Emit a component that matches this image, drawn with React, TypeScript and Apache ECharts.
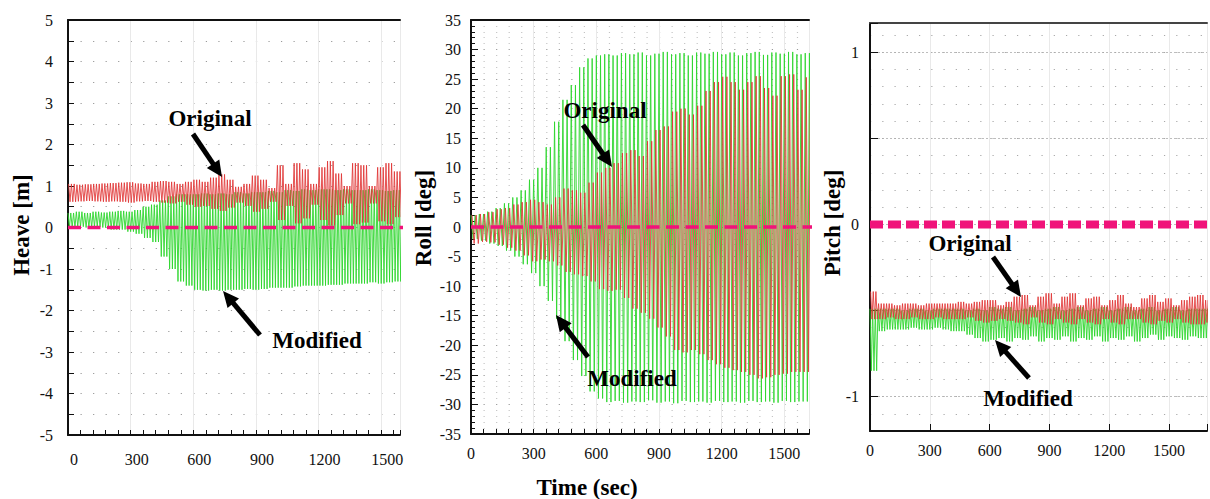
import React, { useEffect, useRef } from 'react';
import * as echarts from 'echarts';

// ---------- DATA (envelopes, one value every 40 s, t = 0 … 1680 s) ----------
const envelopeStepSec = 40;
const envelopeTimes = [
  0, 40, 80, 120, 160, 200, 240, 280, 320, 360,
  400, 440, 480, 520, 560, 600, 640, 680, 720, 760,
  800, 840, 880, 920, 960, 1000, 1040, 1080, 1120, 1160,
  1200, 1240, 1280, 1320, 1360, 1400, 1440, 1480, 1520, 1560,
  1600, 1640, 1680,
];

// Heave [m]
const heaveOriginalUpper = [
  1.05, 1.03, 1.04, 1.05, 1.06, 1.07, 1.08, 1.09, 1.06, 1.05,
  1.10, 1.12, 1.10, 1.05, 1.10, 1.15, 1.10, 1.20, 1.28, 1.15,
  0.98, 1.05, 1.25, 1.15, 0.95, 1.50, 1.05, 1.55, 1.40, 1.05,
  1.45, 1.60, 1.30, 1.00, 1.55, 1.50, 1.00, 1.45, 1.55, 1.35,
  1.20, 1.20, 1.20,
];
const heaveOriginalLower = [
  0.62, 0.63, 0.64, 0.63, 0.62, 0.63, 0.62, 0.60, 0.63, 0.64,
  0.62, 0.60, 0.58, 0.62, 0.55, 0.50, 0.52, 0.45, 0.40, 0.48,
  0.60, 0.52, 0.38, 0.45, 0.62, 0.18, 0.52, 0.10, 0.22, 0.55,
  0.18, 0.05, 0.30, 0.58, 0.08, 0.12, 0.58, 0.15, 0.08, 0.25,
  0.35, 0.35, 0.35,
];
const heaveModifiedUpper = [
  0.35, 0.38, 0.35, 0.38, 0.36, 0.38, 0.40, 0.38, 0.42, 0.50,
  0.55, 0.65, 0.75, 0.80, 0.80, 0.80, 0.82, 0.80, 0.82, 0.80,
  0.85, 0.82, 0.85, 0.85, 0.88, 0.85, 0.90, 0.88, 0.92, 0.90,
  0.92, 0.92, 0.90, 0.92, 0.90, 0.90, 0.92, 0.90, 0.88, 0.90,
  0.90, 0.90, 0.90,
];
const heaveModifiedLower = [
  0.00, 0.02, 0.00, 0.02, 0.00, -0.05, -0.05, -0.10, -0.15, -0.25,
  -0.35, -0.70, -1.00, -1.30, -1.40, -1.50, -1.52, -1.50, -1.52, -1.50,
  -1.50, -1.48, -1.50, -1.48, -1.45, -1.45, -1.45, -1.42, -1.40, -1.40,
  -1.40, -1.38, -1.38, -1.35, -1.35, -1.35, -1.32, -1.35, -1.32, -1.30,
  -1.30, -1.30, -1.30,
];

// Roll [deg]
const rollOriginalUpper = [
  2.0, 2.2, 2.5, 3.0, 3.2, 3.8, 4.2, 4.6, 4.2, 3.8,
  5.0, 6.5, 6.2, 5.8, 7.5, 9.2, 10.0, 10.8, 12.5, 13.0,
  12.0, 14.5, 16.4, 17.0, 19.5, 20.0, 19.0, 20.5, 23.0, 24.5,
  25.4, 24.5, 23.2, 24.5, 25.5, 23.5, 22.2, 25.5, 25.8, 23.2,
  25.3, 25.3, 25.3,
];
const rollOriginalLower = [
  -2.8, -2.5, -2.6, -3.0, -3.5, -4.0, -4.8, -5.8, -5.5, -5.8,
  -6.5, -7.6, -8.0, -8.3, -9.2, -10.5, -10.8, -10.6, -12.0, -13.8,
  -14.5, -15.5, -17.0, -18.5, -20.8, -21.2, -20.8, -21.5, -22.5, -23.2,
  -23.8, -24.2, -24.5, -25.0, -25.6, -25.4, -25.0, -24.8, -24.5, -24.5,
  -24.5, -24.5, -24.5,
];
const rollModifiedUpper = [
  2.0, 2.2, 2.6, 3.2, 4.0, 5.0, 6.2, 8.0, 10.0, 13.5,
  17.8, 21.5, 24.0, 27.0, 28.5, 29.0, 29.2, 29.0, 29.4, 29.2,
  29.5, 29.0, 29.3, 29.6, 29.2, 29.4, 29.0, 29.5, 29.3, 29.6,
  29.2, 29.5, 29.0, 29.4, 29.6, 29.1, 29.5, 29.3, 29.6, 29.2,
  29.4, 29.4, 29.4,
];
const rollModifiedLower = [
  -2.0, -2.3, -2.8, -3.2, -4.0, -5.0, -6.3, -7.8, -10.0, -12.5,
  -15.5, -19.3, -22.5, -25.2, -27.8, -29.0, -29.6, -29.4, -29.7, -29.5,
  -29.6, -29.3, -29.7, -29.5, -29.8, -29.4, -29.6, -29.5, -29.7, -29.4,
  -29.6, -29.5, -29.7, -29.4, -29.6, -29.5, -29.7, -29.4, -29.6, -29.5,
  -29.5, -29.5, -29.5,
];

// Pitch [deg]
const pitchOriginalUpper = [
  -0.39, -0.46, -0.46, -0.47, -0.46, -0.46, -0.47, -0.46, -0.46, -0.46,
  -0.46, -0.45, -0.46, -0.45, -0.44, -0.44, -0.47, -0.45, -0.42, -0.41,
  -0.47, -0.42, -0.40, -0.46, -0.42, -0.40, -0.47, -0.43, -0.42, -0.47,
  -0.44, -0.41, -0.46, -0.48, -0.43, -0.41, -0.45, -0.43, -0.47, -0.44,
  -0.42, -0.41, -0.44,
];
const pitchOriginalLower = [
  -0.55, -0.55, -0.54, -0.55, -0.55, -0.54, -0.55, -0.55, -0.54, -0.55,
  -0.55, -0.55, -0.54, -0.56, -0.57, -0.56, -0.55, -0.56, -0.57, -0.58,
  -0.54, -0.57, -0.58, -0.55, -0.57, -0.58, -0.55, -0.57, -0.58, -0.55,
  -0.57, -0.58, -0.55, -0.55, -0.57, -0.58, -0.56, -0.57, -0.55, -0.57,
  -0.58, -0.58, -0.57,
];
const pitchModifiedUpper = [
  -0.49, -0.49, -0.49, -0.49, -0.50, -0.49, -0.49, -0.50, -0.49, -0.49,
  -0.49, -0.49, -0.50, -0.49, -0.50, -0.48, -0.49, -0.48, -0.50, -0.49,
  -0.48, -0.50, -0.49, -0.48, -0.50, -0.49, -0.48, -0.50, -0.49, -0.48,
  -0.50, -0.49, -0.48, -0.50, -0.49, -0.48, -0.50, -0.49, -0.48, -0.50,
  -0.49, -0.49, -0.49,
];
const pitchModifiedLower = [
  -0.85, -0.62, -0.61, -0.61, -0.61, -0.60, -0.61, -0.61, -0.60, -0.61,
  -0.62, -0.62, -0.64, -0.66, -0.68, -0.67, -0.66, -0.68, -0.66, -0.67,
  -0.65, -0.68, -0.66, -0.67, -0.65, -0.68, -0.66, -0.67, -0.65, -0.68,
  -0.66, -0.67, -0.65, -0.68, -0.66, -0.64, -0.67, -0.65, -0.66, -0.67,
  -0.65, -0.66, -0.66,
];

// zero reference (dashed magenta)
const zeroReference = [[0, 0], [1700, 0]];

// tick labels
const timeTickLabels = ['0', '300', '600', '900', '1200', '1500'];
const heaveTickLabels = ['-5', '-4', '-3', '-2', '-1', '0', '1', '2', '3', '4', '5'];
const rollTickLabels = ['-35', '-30', '-25', '-20', '-15', '-10', '-5', '0', '5', '10', '15', '20', '25', '30', '35'];
const pitchTickLabels = ['-1', '0', '1'];

// ---------- helpers ----------
function oscillation(upper: number[], lower: number[], cyclesPerStep: number, phase: number) {
  const pts: number[][] = [];
  const period = envelopeStepSec / cyclesPerStep;
  envelopeTimes.forEach((t0, i) => {
    for (let j = 0; j < cyclesPerStep; j++) {
      const t = t0 + j * period + phase;
      pts.push([t, upper[i]]);
      pts.push([t + period / 2, lower[i]]);
    }
  });
  return pts;
}

const fmtFrom = (labels: string[]) => (v: number) => {
  const r = Math.round(v * 1000) / 1000;
  const s = String(r);
  return labels.indexOf(s) >= 0 ? s : '';
};

const SERIF = 'Liberation Serif';
const GREEN = '#2fd62f';
const RED = '#e03535';
const MAGENTA = '#f0137a';

function arrow(x1: number, y1: number, x2: number, y2: number) {
  const dx = x2 - x1, dy = y2 - y1;
  const len = Math.hypot(dx, dy);
  const ux = dx / len, uy = dy / len;
  const headLen = 16, headHalf = 7.5;
  const bx = x2 - ux * headLen, by = y2 - uy * headLen;
  return [
    { type: 'line', shape: { x1, y1, x2: bx + ux * 2, y2: by + uy * 2 }, style: { stroke: '#000', lineWidth: 5 }, z: 100 },
    {
      type: 'polygon',
      shape: { points: [[x2, y2], [bx - uy * headHalf, by + ux * headHalf], [bx + uy * headHalf, by - ux * headHalf]] },
      style: { fill: '#000' },
      z: 100,
    },
  ];
}

function label(text: string, x: number, y: number, rotation = 0) {
  return {
    type: 'text',
    x, y, rotation, z: 100,
    style: {
      text, fill: '#000', fontFamily: SERIF, fontSize: 23, fontWeight: 'bold',
      textAlign: 'center', textVerticalAlign: 'middle', align: 'center', verticalAlign: 'middle',
    },
  };
}

export default function App() {
  const ref = useRef<HTMLDivElement>(null);

  useEffect(() => {
    if (!ref.current) return;
    const chart = echarts.init(ref.current, undefined, { renderer: 'svg' });

    const grids = [
      { left: 68, top: 20, width: 332, height: 415, xMax: 1590 },
      { left: 471, top: 20, width: 338, height: 414, xMax: 1618 },
      { left: 870, top: 23, width: 345, height: 408, xMax: 1690 },
    ];
    const dotGap = (g: any) => g.width / g.xMax * 60 - 1.2;

    const axisLine = { show: true, onZero: false, lineStyle: { color: '#111', width: 2 } };
    const tickLabel = { fontFamily: SERIF, fontSize: 16, color: '#111' };

    const xAxis: any[] = [];
    grids.forEach((g, i) => {
      xAxis.push({
        gridIndex: i, type: 'value', position: 'bottom', min: 0, max: g.xMax,
        interval: i === 2 ? 300 : 60,
        axisLine,
        axisTick: { inside: true, length: i === 2 ? 7 : 5, lineStyle: { color: '#111' } },
        axisLabel: {
          ...tickLabel, formatter: fmtFrom(timeTickLabels), showMaxLabel: true,
          margin: i === 0 ? 16 : 11, padding: i === 0 ? [0, 0, 0, 12] : 0,
        },
        splitLine: { show: false },
      });
      xAxis.push({
        gridIndex: i, type: 'value', position: 'top', min: 0, max: g.xMax, interval: 300,
        axisLine: { show: true, onZero: false, lineStyle: { color: i === 2 ? '#444' : '#111', width: 2 } },
        axisTick: { show: false }, axisLabel: { show: false },
        splitLine: { show: true, lineStyle: { color: '#e9e9e9', width: 1 } },
      });
    });

    const yAxis: any[] = [
      {
        gridIndex: 0, type: 'value', min: -5, max: 5, interval: 0.5,
        axisLine, axisTick: { inside: true, length: 6, lineStyle: { color: '#111' } },
        axisLabel: { ...tickLabel, margin: 15, formatter: fmtFrom(heaveTickLabels) },
        splitLine: { show: true, lineStyle: { color: '#9a9a9a', width: 1.2, type: [1.2, dotGap(grids[0])] } },
      },
      {
        gridIndex: 1, type: 'value', min: -35, max: 35, interval: 5,
        axisLine, axisTick: { inside: true, length: 7, lineStyle: { color: '#111' } },
        minorTick: { show: true, splitNumber: 5, length: 4, lineStyle: { color: '#111' } },
        axisLabel: { ...tickLabel, margin: 10, formatter: fmtFrom(rollTickLabels) },
        splitLine: { show: true, lineStyle: { color: '#9a9a9a', width: 1.2, type: [1.2, dotGap(grids[1])] } },
        minorSplitLine: { show: true, lineStyle: { color: '#c4c4c4', width: 1, type: [1.2, dotGap(grids[1])] } },
      },
      {
        gridIndex: 2, type: 'value', min: -1.2, max: 1.17, splitNumber: 5,
        axisLine, axisTick: { inside: true, length: 8, lineStyle: { color: '#111' } },
        axisLabel: { ...tickLabel, margin: 11, formatter: fmtFrom(pitchTickLabels) },
        splitLine: { show: true, lineStyle: { color: '#bdbdbd', width: 1, type: [2, 2] } },
      },
      {
        gridIndex: 2, type: 'value', position: 'right', min: -1.2, max: 1.17, interval: 0.1,
        axisLine: { show: false }, axisTick: { show: false }, axisLabel: { show: false },
        splitLine: { show: true, lineStyle: { color: '#a8a8a8', width: 1.2, type: [1.2, dotGap(grids[2])] } },
      },
    ];

    const panelData = [
      { mod: oscillation(heaveModifiedUpper, heaveModifiedLower, 3, 0), org: oscillation(heaveOriginalUpper, heaveOriginalLower, 3, 3), dash: { width: 3.5, type: [13, 6.5] } },
      { mod: oscillation(rollModifiedUpper, rollModifiedLower, 2, 0), org: oscillation(rollOriginalUpper, rollOriginalLower, 2, 5), dash: { width: 3.5, type: [13, 6.5] } },
      { mod: oscillation(pitchModifiedUpper, pitchModifiedLower, 3, 0), org: oscillation(pitchOriginalUpper, pitchOriginalLower, 3, 3), dash: { width: 8, type: [13, 5] } },
    ];

    const series: any[] = [];
    panelData.forEach((p, i) => {
      const common = { type: 'line', xAxisIndex: i * 2, yAxisIndex: i, symbol: 'none', showSymbol: false, silent: true, clip: true };
      series.push({ ...common, name: 'Modified', data: p.mod, lineStyle: { color: GREEN, width: 1, opacity: 0.9 }, z: 2 });
      series.push({ ...common, name: 'Original', data: p.org, lineStyle: { color: RED, width: 1, opacity: 0.85 }, z: 3 });
      series.push({ ...common, name: 'Zero', data: zeroReference, lineStyle: { color: MAGENTA, width: p.dash.width, type: p.dash.type }, z: 4 });
    });

    const graphic: any[] = [
      label('Heave [m]', 21, 225, Math.PI / 2),
      label('Roll [deg]', 423, 218, Math.PI / 2),
      label('Pitch [deg]', 832, 223, Math.PI / 2),
      label('Time (sec)', 587, 487),
      label('Original', 210, 118),
      ...arrow(193, 134, 222, 177),
      label('Modified', 317, 340),
      ...arrow(260, 335, 223, 291),
      label('Original', 605, 110),
      ...arrow(583, 125, 612, 167),
      label('Modified', 632, 378),
      ...arrow(588, 357, 556, 315),
      label('Original', 970, 243),
      ...arrow(993, 257, 1021, 297),
      label('Modified', 1028, 398),
      ...arrow(1029, 378, 995, 340),
    ];

    chart.setOption({
      animation: false,
      backgroundColor: '#ffffff',
      textStyle: { fontFamily: SERIF },
      grid: grids.map((g) => ({ left: g.left, top: g.top, width: g.width, height: g.height, containLabel: false })),
      xAxis,
      yAxis,
      series,
      graphic,
    });

    return () => chart.dispose();
  }, []);

  return <div ref={ref} style={{ position: 'absolute', left: 0, top: 0, width: 1210, height: 499 }} />;
}
